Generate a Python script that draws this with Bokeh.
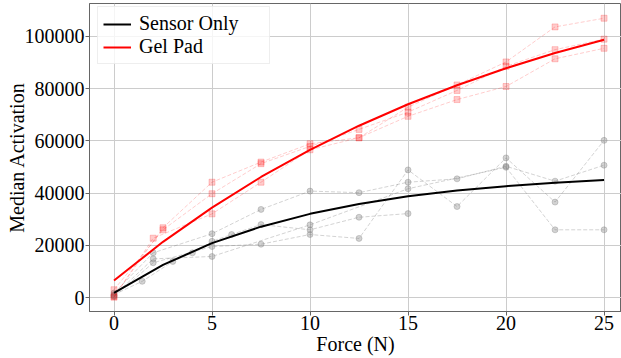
from bokeh.plotting import figure
from bokeh.models import Range1d, FixedTicker, NumeralTickFormatter, Legend, LegendItem
from bokeh.embed import file_html
from bokeh.resources import INLINE

# ---- data ----
force_fit = [0, 2.5, 5, 7.5, 10, 12.5, 15, 17.5, 20, 22.5, 25]
sensor_fit = [1900, 12600, 20900, 27200, 32100, 35900, 38800, 41000, 42700, 44000, 45000]
gel_fit = [6600, 21400, 34500, 46200, 56600, 65800, 74000, 81300, 87800, 93600, 98700]

sensor_t1_x = [0, 2, 5, 7.5, 10, 12.5, 15, 17.5, 20, 22.5, 25]
sensor_t1_y = [1800, 17200, 24500, 33800, 40800, 40200, 44200, 45500, 50300, 44600, 50700]
sensor_t2_x = [0, 2, 5, 7.5, 10, 12.5, 15, 17.5, 20, 22.5, 25]
sensor_t2_y = [500, 13400, 19600, 20500, 24200, 22700, 48900, 34900, 53500, 36600, 60200]
sensor_t3_x = [0, 1.44, 3, 4, 5, 6, 7.5, 10, 12.5, 15]
sensor_t3_y = [1200, 6300, 13900, 17200, 21600, 24200, 28000, 26000, 30800, 32200]
sensor_t4_x = [0, 2, 5, 10, 15, 20, 22.5, 25]
sensor_t4_y = [800, 14900, 15800, 27900, 41700, 49900, 26000, 26000]

gel_t1_x = [0, 2.5, 5, 7.5, 10, 12.5, 15, 17.5, 20, 22.5, 25]
gel_t1_y = [500, 26800, 44200, 51900, 58900, 61200, 72900, 81400, 90200, 103600, 106900]
gel_t2_x = [0, 2.5, 5, 7.5, 10, 12.5, 15, 17.5, 20, 22.5, 25]
gel_t2_y = [3100, 26000, 39800, 51300, 57900, 64400, 71000, 79300, 88500, 94900, 98900]
gel_t3_x = [0, 2, 5, 7.5, 10, 12.5, 15, 17.5, 20, 22.5, 25]
gel_t3_y = [200, 22800, 32100, 44200, 56600, 61200, 69400, 75800, 80800, 91400, 95400]

x_ticks = [0, 5, 10, 15, 20, 25]
y_ticks = [0, 20000, 40000, 60000, 80000, 100000]
x_label = "Force (N)"
y_label = "Median Activation"
legend_labels = ["Sensor Only", "Gel Pad"]

FONT = "Liberation Serif"

p = figure(width=621, height=358, output_backend="svg", toolbar_location=None,
           x_range=Range1d(-1.25, 25.89), y_range=Range1d(-5240, 112540),
           min_border_left=89, min_border_right=0, min_border_top=3, min_border_bottom=47)

p.background_fill_color = "white"
p.border_fill_color = "white"
p.outline_line_color = "#666666"
p.outline_line_width = 1

for ax in (p.xaxis[0], p.yaxis[0]):
    ax.major_label_text_font = FONT
    ax.major_label_text_font_size = "20px"
    ax.major_label_text_color = "black"
    ax.axis_label_text_font = FONT
    ax.axis_label_text_font_size = "20px"
    ax.axis_label_text_font_style = "normal"
    ax.axis_label_text_color = "black"
    ax.axis_line_color = "#666666"
    ax.major_tick_line_color = "#666666"
    ax.major_tick_out = 4
    ax.major_tick_in = 0
    ax.minor_tick_line_color = None
    ax.major_label_standoff = 1
p.xaxis.ticker = FixedTicker(ticks=x_ticks)
p.yaxis.ticker = FixedTicker(ticks=y_ticks)
p.yaxis.formatter = NumeralTickFormatter(format="0")
p.xaxis.major_label_standoff = 0
p.xaxis.axis_label = x_label
p.yaxis.axis_label = y_label
p.xaxis.axis_label_standoff = 0
p.yaxis.axis_label_standoff = -6

p.grid.grid_line_color = "#cccccc"
p.grid.grid_line_width = 1
p.xgrid.ticker = FixedTicker(ticks=x_ticks)
p.ygrid.ticker = FixedTicker(ticks=y_ticks)

# trials
for xs, ys in [(sensor_t1_x, sensor_t1_y), (sensor_t2_x, sensor_t2_y),
               (sensor_t3_x, sensor_t3_y), (sensor_t4_x, sensor_t4_y)]:
    p.line(xs, ys, line_color="gray", line_alpha=0.35, line_width=1, line_dash="4 2")
    p.scatter(xs, ys, marker="circle", size=6, fill_color="gray", fill_alpha=0.35,
              line_color="gray", line_alpha=0.35)
for xs, ys in [(gel_t1_x, gel_t1_y), (gel_t2_x, gel_t2_y), (gel_t3_x, gel_t3_y)]:
    p.line(xs, ys, line_color="red", line_alpha=0.2, line_width=1, line_dash="4 2")
    p.scatter(xs, ys, marker="square", size=6, fill_color="red", fill_alpha=0.2,
              line_color="red", line_alpha=0.2)

r_sensor = p.line(force_fit, sensor_fit, line_color="black", line_width=2)
r_gel = p.line(force_fit, gel_fit, line_color="red", line_width=2)

legend = Legend(items=[LegendItem(label=legend_labels[0], renderers=[r_sensor]),
                       LegendItem(label=legend_labels[1], renderers=[r_gel])],
                location=(8, 247))
legend.label_text_font = FONT
legend.label_text_font_size = "20px"
legend.label_text_color = "black"
legend.padding = 5
legend.spacing = -4
legend.margin = 0
legend.glyph_width = 28
legend.glyph_height = 18
legend.label_height = 18
legend.label_width = 125
legend.label_standoff = 8
legend.border_line_color = "#dddddd"
legend.border_line_width = 1
legend.background_fill_color = "white"
legend.background_fill_alpha = 0.8
p.add_layout(legend, "center")

open("out.html", "w").write(file_html(p, INLINE))
